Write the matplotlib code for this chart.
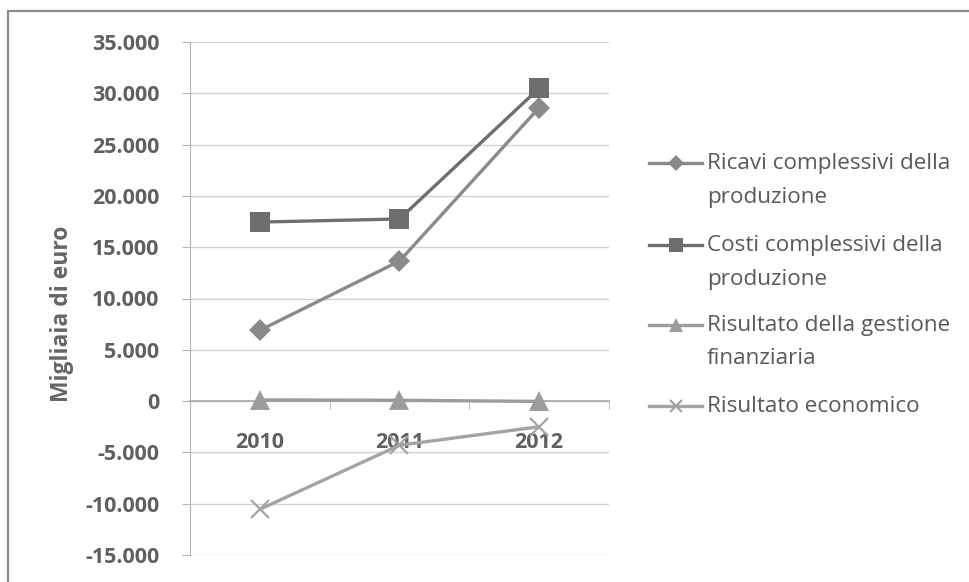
import matplotlib
matplotlib.use("Agg")
import matplotlib.pyplot as plt
from matplotlib.lines import Line2D
from matplotlib.patches import Rectangle
from matplotlib.ticker import FuncFormatter, FixedLocator

plt.rcParams['font.family'] = ['Open Sans', 'DejaVu Sans']

# data (migliaia di euro)
anni = ["2010", "2011", "2012"]
ricavi = [6900, 13650, 28600]
costi = [17450, 17750, 30500]
gestione_fin = [120, 80, -30]
risultato_econ = [-10550, -4300, -2500]

serie = [
    ("Ricavi complessivi della\nproduzione", ricavi, "#8a8a8a", "D", 11, 1.0),
    ("Costi complessivi della\nproduzione", costi, "#6e6e6e", "s", 14, 1.0),
    ("Risultato della gestione\nfinanziaria", gestione_fin, "#9c9c9c", "^", 15, 1.0),
    ("Risultato economico", risultato_econ, "#a4a4a4", "x", 13, 1.6),
]

W, H = 970, 582
fig = plt.figure(figsize=(W / 100, H / 100), dpi=100)
fig.patch.set_facecolor("white")

# outer chart border
fig.add_artist(Rectangle((8 / W, -0.1), 1.2, 1 - 11 / H + 0.1, transform=fig.transFigure,
                         fill=False, edgecolor="#8c8c8c", linewidth=1.6))

left, right, top, bottom = 190, 609, 42, 555
ax = fig.add_axes([left / W, 1 - bottom / H, (right - left) / W, (bottom - top) / H])

x = list(range(len(anni)))
for label, vals, col, mk, ms, mew in serie:
    ax.plot(x, vals, color=col, linewidth=2.4, marker=mk, markersize=ms,
            markeredgewidth=mew if mk == "x" else 0, markeredgecolor=col,
            markerfacecolor=col, zorder=3, clip_on=False)

ax.set_xlim(-0.5, 2.5)
ax.set_ylim(-15000, 35000)
ax.set_yticks(range(-15000, 35001, 5000))
ax.yaxis.set_major_formatter(FuncFormatter(lambda v, p: f"{int(v):,}".replace(",", ".")))
ax.grid(axis="y", color="#d2d2d2", linewidth=1.0)
ax.set_axisbelow(True)

for s in ["top", "right"]:
    ax.spines[s].set_visible(False)
ax.spines["left"].set_color("#b4b4b4")
ax.spines["bottom"].set_position(("data", 0))
ax.spines["bottom"].set_color("#a8a8a8")
ax.spines["bottom"].set_linewidth(1.2)

ax.set_xticks(x)
ax.set_xticklabels(anni)
ax.xaxis.set_minor_locator(FixedLocator([-0.5, 0.5, 1.5, 2.5]))
ax.tick_params(axis="x", which="major", length=0, pad=22, labelsize=15.5,
               labelcolor="#606060")
ax.tick_params(axis="x", which="minor", length=6, color="#b4b4b4", direction="out")
ax.tick_params(axis="y", length=6, color="#b4b4b4", pad=16, labelsize=15.5,
               labelcolor="#606060")
for t in ax.get_xticklabels() + ax.get_yticklabels():
    t.set_fontweight("bold")

fig.text(62 / W, 1 - 314 / H, "Migliaia di euro", rotation=90, ha="center", va="center",
         fontsize=16.5, fontweight="bold", color="#666666")

# legend
leg_y = [163, 245, 325, 406]
for (label, vals, col, mk, ms, mew), yy in zip(serie, leg_y):
    fy = 1 - yy / H
    fig.add_artist(Line2D([649 / W, 702 / W], [fy, fy], transform=fig.transFigure,
                          color=col, linewidth=2.4))
    fig.add_artist(Line2D([676 / W], [fy], transform=fig.transFigure, marker=mk,
                          markersize=ms * 0.7, color=col, markerfacecolor=col,
                          markeredgecolor=col, markeredgewidth=mew if mk == "x" else 0))
    for i, line in enumerate(label.split("\n")):
        fig.text(707 / W, 1 - (yy + 34 * i) / H, line, ha="left", va="center",
                 fontsize=16.2, color="#595959")

fig.savefig("out.png", dpi=100)
